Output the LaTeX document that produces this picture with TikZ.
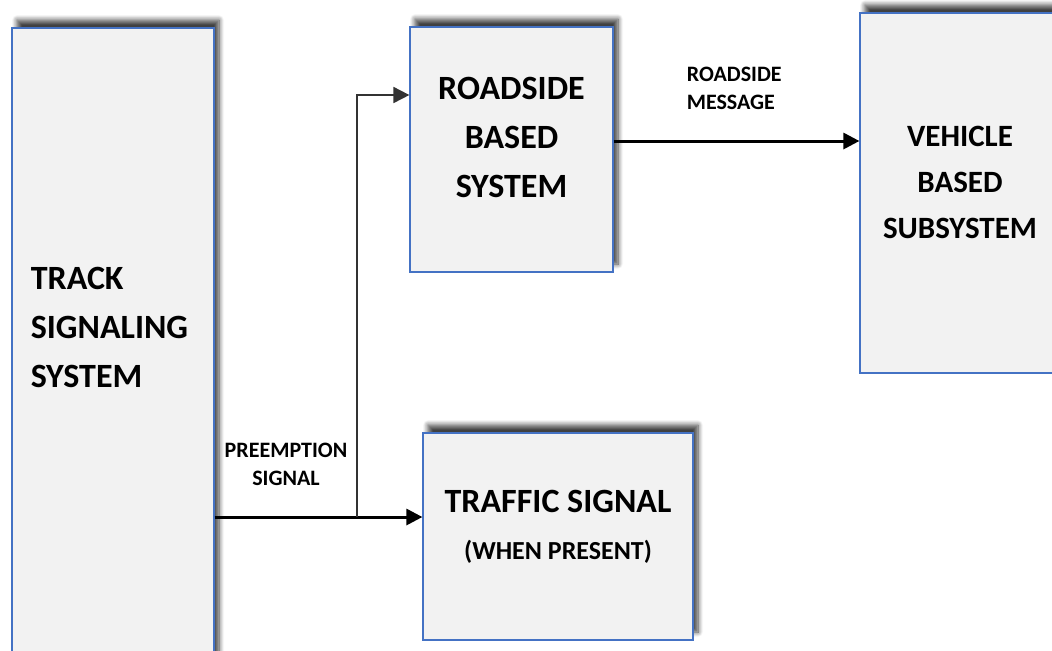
\documentclass[tikz,border=0pt]{standalone}
\usepackage{fontspec}
\setmainfont{Carlito}
\usetikzlibrary{arrows.meta,positioning,shadows.blur}

\definecolor{boxfill}{HTML}{F2F2F2}
\definecolor{boxline}{HTML}{4472C4}

\tikzset{
  block/.style={draw=boxline, fill=boxfill, line width=0.6pt, inner sep=0pt,
    blur shadow={shadow xshift=2.5pt, shadow yshift=4pt,
      shadow blur radius=2.5pt, shadow blur steps=8, shadow opacity=75}},
  blocktext/.style={font=\fontsize{17}{24.5}\selectfont\bfseries, align=center, inner sep=0pt},
  signaltext/.style={font=\fontsize{11}{14}\selectfont\bfseries, align=center, inner sep=0pt},
}

\begin{document}
\begin{tikzpicture}[>={Triangle[length=8pt,width=8pt]}, on grid, thick]
  \useasboundingbox (0,0) rectangle (526pt,-325pt);

  \node[block, minimum width=101pt, minimum height=321pt] (track) at (56.5pt,-174.5pt) {};
  \node[block, minimum width=101.5pt, minimum height=122.5pt] (roadside) [above right=99.75pt and 199.25pt of track] {};
  \node[block, minimum width=100pt, minimum height=180pt] (vehicle) [below right=21.75pt and 224.25pt of roadside] {};
  \node[block, minimum width=135pt, minimum height=103.5pt] (traffic) [below right=193.5pt and 23.25pt of roadside] {};

  \node[blocktext, align=left, anchor=west] (track text) at (15pt,-163.5pt) {TRACK\\SIGNALING\\SYSTEM};
  \node[blocktext] (roadside text) at ([yshift=6pt]roadside.center) {ROADSIDE\\BASED\\SYSTEM};
  \node[blocktext, font=\fontsize{15.5}{23}\selectfont\bfseries] (vehicle text) at ([yshift=5.5pt]vehicle.center) {VEHICLE\\BASED\\SUBSYSTEM};
  \node[blocktext] (traffic text) at ([yshift=4.75pt]traffic.center) {TRAFFIC SIGNAL\\[-1pt]{\fontsize{13}{16}\selectfont(WHEN PRESENT)}};

  \node[signaltext] (preemption) at (143pt,-232pt) {PREEMPTION\\SIGNAL};
  \node[signaltext, align=left, anchor=west] (message) at (343pt,-44.25pt) {ROADSIDE\\MESSAGE};

  \coordinate (split) at (178.5pt,-258.5pt);
  \coordinate (msg) at ([yshift=4.25pt]roadside.east);

  \draw[->, line width=1.5pt] (track.east |- split) -- (traffic.west |- split);
  \draw[->, line width=0.9pt, black!80] (split) |- ([yshift=27.25pt]roadside.west);
  \draw[->, line width=1.5pt] (msg) -- (vehicle.west |- msg);
\end{tikzpicture}
\end{document}
